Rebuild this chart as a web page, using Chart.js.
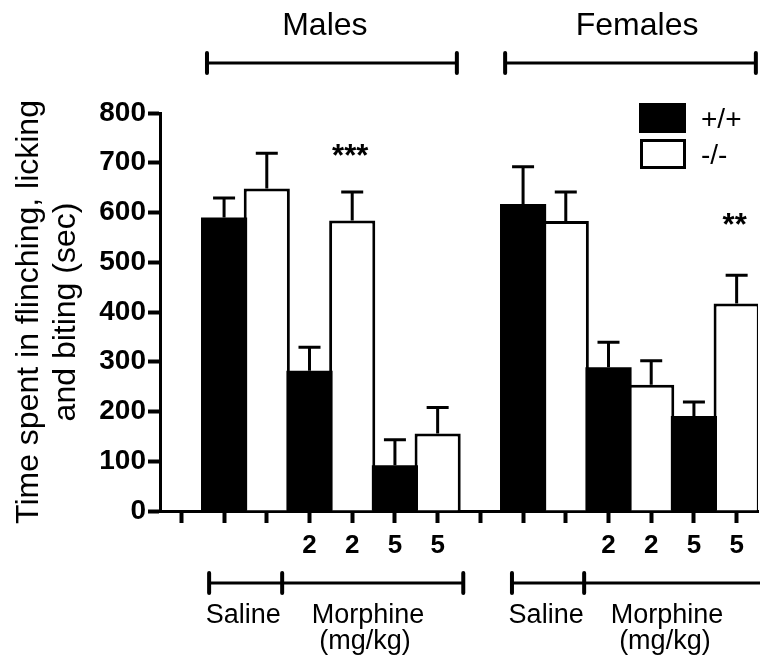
<!DOCTYPE html>
<html>
<head>
<meta charset="utf-8">
<script src="https://cdn.jsdelivr.net/npm/chart.js@4"></script>
<style>
  body { margin: 0; background: #fff; }
  #wrap { width: 760px; height: 663px; }
</style>
</head>
<body>
<div id="wrap"><canvas id="myChart" width="760" height="663"></canvas></div>
<script>
// each sex block: saline, morphine 2 and 5 mg/kg
const sexes = ['Males', 'Females'];
const doses = ['', '2', '5'];
const genotypes = ['+/+', '-/-'];

const malesWT = [590, 282, 92];
const malesWTErr = [39, 47, 51];
const malesKO = [648, 584, 156];
const malesKOErr = [71, 57, 52];

const femalesWT = [617, 289, 191];
const femalesWTErr = [75, 50, 28];
const femalesKO = [583, 254, 417];
const femalesKOErr = [58, 48, 57];

// significance marks over the -/- bars
const malesKOStars = ['', '***', ''];
const femalesKOStars = ['', '', '**'];

const yMin = 0, yMax = 800, yStep = 100;

const FONT = "'Liberation Sans', Arial, sans-serif";
Chart.defaults.font.family = FONT;
Chart.defaults.color = '#000';

// build the 14 category slots (one empty slot before each sex block)
let labels = [], wt = [], wtErr = [], ko = [], koErr = [], stars = [];
const blocks = [
    [malesWT, malesWTErr, malesKO, malesKOErr, malesKOStars],
    [femalesWT, femalesWTErr, femalesKO, femalesKOErr, femalesKOStars]
];
blocks.forEach(b => {
    labels.push(''); wt.push(null); wtErr.push(null); ko.push(null); koErr.push(null); stars.push('');
    doses.forEach((d, i) => {
        labels.push(d); wt.push(b[0][i]); wtErr.push(b[1][i]); ko.push(null); koErr.push(null); stars.push('');
        labels.push(d); wt.push(null); wtErr.push(null); ko.push(b[2][i]); koErr.push(b[3][i]); stars.push(b[4][i]);
    });
});

// how far above the error cap each mark sits
const starLift = { '***': 26, '**': 40 };

// error bars (upper only) + stars
const errorBars = {
    id: 'errorBars',
    afterDatasetsDraw(chart) {
        const ctx = chart.ctx, y = chart.scales.y;
        ctx.save();
        ctx.strokeStyle = '#000';
        ctx.lineWidth = 3;
        chart.data.datasets.forEach((ds, di) => {
            const meta = chart.getDatasetMeta(di);
            ds.data.forEach((v, j) => {
                if (v == null) return;
                const bar = meta.data[j];
                const top = y.getPixelForValue(v + ds.errors[j]);
                ctx.beginPath();
                ctx.moveTo(bar.x, bar.y);
                ctx.lineTo(bar.x, top);
                ctx.moveTo(bar.x - 11, top);
                ctx.lineTo(bar.x + 11, top);
                ctx.stroke();
                if (ds.stars && ds.stars[j]) {
                    ctx.fillStyle = '#000';
                    ctx.font = 'bold 31px ' + FONT;
                    ctx.textAlign = 'center';
                    ctx.textBaseline = 'alphabetic';
                    ctx.fillText(ds.stars[j], bar.x - 2, top - starLift[ds.stars[j]]);
                }
            });
        });
        ctx.restore();
    }
};

// brackets above and below, plus legend
const extras = {
    id: 'extras',
    afterDraw(chart) {
        const ctx = chart.ctx, x = chart.scales.x;
        const px = v => x.getPixelForValue(v);
        ctx.save();
        ctx.strokeStyle = '#000';
        ctx.fillStyle = '#000';
        ctx.lineWidth = 3;

        function bracket(stops, yy, capLast) {
            ctx.beginPath();
            ctx.moveTo(px(stops[0]), yy);
            ctx.lineTo(px(stops[stops.length - 1]), yy);
            ctx.stroke();
            ctx.lineWidth = 4;
            ctx.lineCap = 'round';
            ctx.beginPath();
            stops.forEach((s, i) => {
                if (i === stops.length - 1 && !capLast) return;
                ctx.moveTo(px(s), yy - 10);
                ctx.lineTo(px(s), yy + 10);
            });
            ctx.stroke();
            ctx.lineWidth = 3;
            ctx.lineCap = 'butt';
        }

        // sex brackets
        bracket([0.6, 6.45], 63, true);
        bracket([7.58, 13.45], 63, true);
        ctx.font = '32px ' + FONT;
        ctx.textAlign = 'center';
        ctx.textBaseline = 'alphabetic';
        ctx.fillText(sexes[0], px(3.36), 35);
        ctx.fillText(sexes[1], px(10.67), 35);

        // treatment brackets
        bracket([0.65, 2.36, 6.6], 583, true);
        bracket([7.74, 9.43, 14.2], 583, false);
        ctx.font = '27px ' + FONT;
        [[1.45, 4.37, 4.3], [8.54, 11.37, 11.32]].forEach(p => {
            ctx.fillText('Saline', px(p[0]), 623);
            ctx.fillText('Morphine', px(p[1]), 623);
            ctx.fillText('(mg/kg)', px(p[2]), 649);
        });

        // legend
        const ds = chart.data.datasets;
        ctx.fillStyle = ds[0].backgroundColor;
        ctx.fillRect(639, 103, 47, 30);
        ctx.fillStyle = ds[1].backgroundColor;
        ctx.fillRect(640, 139, 46, 30);
        ctx.strokeRect(641.5, 140.5, 43, 27);
        ctx.fillStyle = '#000';
        ctx.font = '28px ' + FONT;
        ctx.textAlign = 'left';
        ctx.textBaseline = 'middle';
        ctx.fillText(ds[0].label, 701, 120);
        ctx.fillText(ds[1].label, 701, 156);
        ctx.restore();
    }
};

const ctx = document.getElementById('myChart').getContext('2d');
const myChart = new Chart(ctx, {
    type: 'bar',
    data: {
        labels: labels,
        datasets: [
            {
                label: genotypes[0],
                data: wt,
                errors: wtErr,
                backgroundColor: '#000',
                borderColor: '#000',
                borderWidth: 0,
                grouped: false,
                barPercentage: 1.08,
                categoryPercentage: 1
            },
            {
                label: genotypes[1],
                data: ko,
                errors: koErr,
                stars: stars,
                backgroundColor: '#fff',
                borderColor: '#000',
                borderWidth: 3,
                grouped: false,
                barPercentage: 1.08,
                categoryPercentage: 1
            }
        ]
    },
    options: {
        responsive: false,
        animation: false,
        layout: { padding: { top: 113, right: 2, left: 0, bottom: 0 } },
        plugins: {
            legend: { display: false },
            tooltip: { enabled: false }
        },
        scales: {
            x: {
                ticks: { font: { size: 26, weight: 'bold' }, color: '#000', padding: 7, autoSkip: false, maxRotation: 0 },
                grid: { offset: false, drawOnChartArea: false, tickLength: 12, tickWidth: 4, tickColor: '#000' },
                border: { color: '#000', width: 3 },
                afterFit: s => { s.height = 152; }
            },
            y: {
                min: yMin,
                max: yMax,
                ticks: { stepSize: yStep, font: { size: 28, weight: 'bold' }, color: '#000', padding: 2 },
                grid: { drawOnChartArea: false, tickLength: 12, tickWidth: 4, tickColor: '#000' },
                border: { color: '#000', width: 3 },
                title: {
                    display: true,
                    text: ['Time spent in flinching, licking', 'and biting (sec)'],
                    font: { size: 32, lineHeight: 1.17 },
                    color: '#000',
                    padding: { top: 10, bottom: 0 }
                },
                afterFit: s => { s.width = 160; }
            }
        }
    },
    plugins: [errorBars, extras]
});
</script>
</body>
</html>
